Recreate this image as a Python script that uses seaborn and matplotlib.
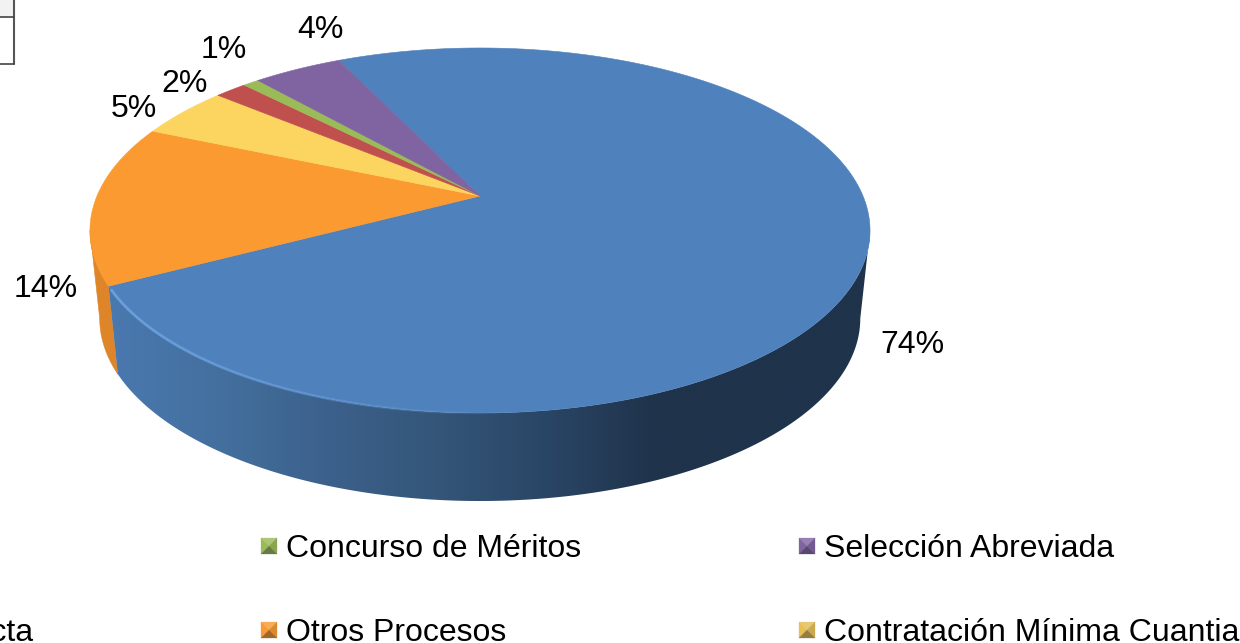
import numpy as np
import matplotlib
matplotlib.use('Agg')
import matplotlib.pyplot as plt
from matplotlib.patches import Polygon, Rectangle
import seaborn as sns

# slices, clockwise from the top right edge of the purple one
categories = ['Contratación Directa', 'Otros Procesos', 'Contratación Mínima Cuantia',
              'Otro', 'Concurso de Méritos', 'Selección Abreviada']
shares = [74.3, 14.2, 4.6, 1.6, 0.8, 4.4]
top_colors = ['#4f81bd', '#fb9a30', '#fcd561', '#c0504d', '#9bbb59', '#8064a2']
orange_side = '#dd8528'
blue_side = ['#4a79b0', '#44709f', '#3c618c', '#345679', '#2a4666', '#1f334b', '#1f334b', '#1f334b']

label_pos = [(912, 345), (46, 289), (134, 109), (185, 84), (224, 50), (320, 30)]

legend_rows = [
    ('Concurso de Méritos', '#9bbb59', 261, 546),
    ('Selección Abreviada', '#8064a2', 799, 546),
    ('Otros Procesos', '#fb9a30', 261, 630),
    ('Contratación Mínima Cuantia', '#e6bf55', 799, 630),
]

sns.set_theme(style='white')
plt.rcParams['font.family'] = ['Liberation Sans', 'DejaVu Sans']

fig = plt.figure(figsize=(12.4, 6.43), dpi=100)
ax = fig.add_axes([0, 0, 1, 1])
ax.axis('off')

# pie plane with a bit of perspective
cx, cy, bx, ay, k = 480, 196, 383, 176, -0.189
depth = 88
shrink = 0.975
start = -25.6


def project(theta, drop=0.0, scale=1.0):
    t = np.radians(theta)
    c, s = np.sin(t), -np.cos(t)
    w = 1 + k * s
    return cx + scale * bx * c / w, cy + drop + ay * s / w


def wall(a, b):
    th = np.linspace(a, b, 300)
    x1, y1 = project(th)
    x2, y2 = project(th[::-1], depth, shrink)
    return np.column_stack([np.r_[x1, x2], np.r_[y1, y2]])


edges = start + np.concatenate([[0], np.cumsum(shares)]) / np.sum(shares) * 360

# the wall is only seen between the left and right extremes of the ellipse
right_end = np.degrees(np.arccos(k))
left_end = 360 - right_end

ax.add_patch(Polygon(wall(edges[1], left_end), closed=True, fc=orange_side, ec=orange_side, lw=0.4))

# blue wall gets a left to right gradient clipped to its outline
side_pal = np.array(sns.blend_palette(blue_side, 256))[np.newaxis, :, :3]
blue_wall = Polygon(wall(right_end, edges[1]), closed=True, fc='none', ec='none')
ax.add_patch(blue_wall)
img = ax.imshow(side_pal, extent=(105, 875, 520, 200), aspect='auto', interpolation='bilinear', zorder=1)
img.set_clip_path(blue_wall)

ax.set_xlim(0, 1240)
ax.set_ylim(643, 0)

# top face
for i in range(len(shares)):
    th = np.linspace(edges[i], edges[i + 1], 300)
    xs, ys = project(th)
    pts = [(cx, cy)] + list(zip(xs, ys))
    ax.add_patch(Polygon(pts, closed=True, fc=top_colors[i], ec=top_colors[i], lw=0.4, zorder=2))

# light rim on the front left of the blue slice
rim = np.linspace(edges[1] - 1, 178, 120)
for a, b in zip(rim[:-1], rim[1:]):
    x, y = project(np.array([a, b]))
    fade = np.clip((x[0] - 110) / 400, 0, 1)
    ax.plot(x, y, color='#6fa5e3', lw=2, alpha=(1 - fade) * 0.9, solid_capstyle='butt', zorder=3)

for (lx, ly), v in zip(label_pos, shares):
    ax.text(lx, ly, f'{round(v)}%', fontsize=23, color='black', ha='center', va='center', zorder=4)

# legend, the bevel comes from four triangles per swatch
for name, col, x0, y0 in legend_rows:
    sz = 16
    x1, y1 = x0 + sz, y0 + sz / 2
    xt, yt = x0, y0 - sz / 2
    mid = (x0 + sz / 2, y0)
    faces = [
        ([(xt, yt), (x1, yt), mid], sns.light_palette(col, 6, reverse=True)[1]),
        ([(xt, yt), (xt, y1), mid], col),
        ([(x1, yt), (x1, y1), mid], sns.dark_palette(col, 8, reverse=True)[1]),
        ([(xt, y1), (x1, y1), mid], sns.dark_palette(col, 8, reverse=True)[3]),
    ]
    for pts, fc in faces:
        ax.add_patch(Polygon(pts, closed=True, fc=fc, ec=fc, lw=0.2))
    ax.text(x0 + 25, y0 + 3, name, fontsize=23, color='black', ha='left', va='center')

# last letters of the entry that runs off the left side
ax.text(33, 633, categories[0], fontsize=23, color='black', ha='right', va='center')

# bit of a table left in the corner
ax.add_patch(Rectangle((0, 0), 14, 17, fc='#f2f2f2', ec='none'))
ax.plot([14, 14], [0, 64], color='#555555', lw=1.5)
ax.plot([0, 14], [17, 17], color='#444444', lw=1.2)
ax.plot([0, 14], [64, 64], color='#444444', lw=1.2)

fig.savefig('out.png', dpi=100, facecolor='white')
